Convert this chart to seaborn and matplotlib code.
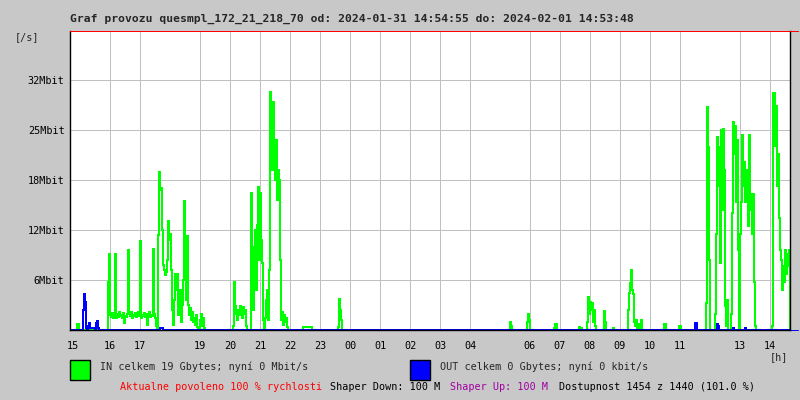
import numpy as np
import pandas as pd
import matplotlib.pyplot as plt
from matplotlib.patches import Rectangle
import seaborn as sns

# --------------------- Data (Mbit/s, one sample every 2 minutes) ---------------------
start_hour = 14 + 40 / 60      # left edge of the graph
step_min = 2
n_samples = 721

# (start time, values) for every burst of traffic; everything else is 0
in_bursts = [
    ("14:54", [0.8, 0.8]),
    ("15:56", [6.0, 9.5, 1.9, 1.6, 2.1, 1.5, 1.9, 9.5, 1.5, 2.0, 1.6, 2.2, 1.7, 1.9, 1.5, 2.1,
               0.9, 1.8, 1.6, 2.0, 10.0, 2.0, 1.7, 2.2, 1.5, 1.9, 1.8, 2.1, 1.6, 1.9, 2.2, 1.7,
               11.1, 1.5, 1.9, 1.7, 2.1, 1.6, 2.0, 0.6, 1.8, 2.2, 1.6, 1.9, 1.7, 10.1, 2.0, 1.5,
               0.5, 0.2, 11.9, 19.8, 17.5, 17.8, 12.5, 8.1, 7.5, 6.9, 7.2, 8.8, 13.6, 11.3, 12.0,
               7.5, 2.5, 0.6, 3.8, 7.0, 5.0, 7.0, 1.9, 3.8, 5.0, 1.0, 3.1, 6.3, 16.1, 7.5, 3.8,
               11.8, 3.1, 1.9, 2.8, 1.3, 2.3, 1.0, 1.5, 0.6, 1.9, 0.4, 0.0, 0.0, 1.3, 2.0, 0.5,
               1.5, 0.2]),
    ("20:06", [0.5, 6.0, 3.0, 2.0, 1.3, 2.5, 1.9, 3.0, 2.2, 1.5, 2.9, 2.0, 2.5, 0.5]),
    ("20:42", [17.1, 10.4, 2.5, 7.5, 12.5, 5.0, 13.1, 17.9, 8.8, 17.1, 11.3, 8.4, 1.3, 0.0,
               1.5, 3.8, 5.0, 1.3, 7.5, 29.8, 25.0, 20.0, 28.5, 23.8, 18.8, 23.8, 16.3, 20.0,
               18.8, 8.8, 1.3, 2.3, 0.6, 1.9, 1.0, 1.5, 0.4]),
    ("22:26", [0.4, 0.4, 0.4, 0.4, 0.4, 0.4, 0.4, 0.4, 0.4]),
    ("23:36", [0.4, 3.9, 2.5, 1.2]),
    ("05:20", [1.0, 0.5]),
    ("05:54", [1.0, 2.0, 1.2]),
    ("06:48", [0.3, 0.8, 0.8]),
    ("07:38", [0.4, 0.0, 0.3]),
    ("07:54", [1.0, 4.1, 2.0, 3.5, 2.5, 3.4, 1.0, 2.5, 0.5]),
    ("08:28", [2.4, 1.0]),
    ("08:46", [0.2]),
    ("09:16", [2.5, 4.6, 5.9, 7.5, 5.0, 4.5, 1.0, 0.5, 1.3, 0.3, 0.0, 0.8, 0.3, 1.2]),
    ("10:28", [0.8, 0.8]),
    ("10:58", [0.5, 0.5]),
    ("11:52", [3.4, 27.9, 22.9, 8.8]),
    ("12:10", [2.0, 12.0, 24.1, 18.0, 22.9, 8.4, 25.0, 15.0, 25.1, 20.0, 3.0, 0.5, 3.8]),
    ("12:40", [0.0, 2.0, 14.6, 26.0, 22.0, 25.5, 16.0, 23.8, 10.0, 0.0, 12.0, 16.0, 24.4,
               18.0, 21.0, 16.0, 20.0, 18.8, 13.0, 24.4, 15.0, 17.0, 12.0, 17.0, 6.0, 0.5]),
    ("14:04", [0.5, 29.6, 29.6, 23.0, 28.0, 18.0, 22.0, 14.0, 10.0, 8.8, 5.0, 8.0, 6.0,
               10.0, 7.0, 9.5, 8.0, 10.0]),
]

out_bursts = [
    ("15:06", [2.5, 4.5, 3.5, 0.3, 0.0, 0.5, 0.9, 0.3, 0.2, 0.2, 0.2, 0.2, 0.0, 0.9, 1.1, 0.2]),
    ("17:40", [0.2, 0.2, 0.2]),
    ("11:30", [0.9, 0.9]),
    ("12:14", [0.8, 0.5]),
    ("12:46", [0.2]),
    ("13:10", [0.2]),
]

y_ticks = [6.25, 12.5, 18.75, 25.0, 31.25]
y_labels = ["6Mbit", "12Mbit", "18Mbit", "25Mbit", "32Mbit"]
x_ticks = [14.77, 16, 17, 19, 20, 21, 22, 23, 24, 25, 26, 27, 28, 30, 31, 32, 33, 34, 35, 37, 38]
x_labels = ["15", "16", "17", "19", "20", "21", "22", "23", "00", "01", "02", "03", "04",
            "06", "07", "08", "09", "10", "11", "13", "14"]

title = "Graf provozu quesmpl_172_21_218_70 od: 2024-01-31 14:54:55 do: 2024-02-01 14:53:48"


def clock_to_hours(s):
    h, m = map(int, s.split(":"))
    t = h + m / 60
    if t < start_hour:          # times before 14:40 belong to the next day
        t += 24
    return t


def build_series(bursts):
    vals = np.zeros(n_samples)
    for start, seq in bursts:
        i = int(round((clock_to_hours(start) - start_hour) * 60 / step_min))
        vals[i:i + len(seq)] = seq
    return vals


hours = start_hour + np.arange(n_samples) * step_min / 60
df = pd.concat([
    pd.DataFrame({"hour": hours, "rate": build_series(in_bursts), "dir": "IN"}),
    pd.DataFrame({"hour": hours, "rate": build_series(out_bursts), "dir": "OUT"}),
])

# --------------------- Plot ---------------------
sns.set_style("white")
plt.rcParams["font.family"] = ["DejaVu Sans Mono"]
bg = "#c8c8c8"
px = 0.72   # one pixel in points at 100 dpi

fig = plt.figure(figsize=(8, 4), dpi=100, facecolor=bg)
ax = fig.add_axes([70 / 800, 70 / 400, 720 / 800, 299 / 400])
ax.set_facecolor("white")

sns.lineplot(data=df, x="hour", y="rate", hue="dir", hue_order=["IN", "OUT"],
             palette={"IN": "#00ff00", "OUT": "#0000ff"}, estimator=None,
             drawstyle="steps-post", linewidth=px, antialiased=False, legend=False, ax=ax)

ax.set_xlim(start_hour, start_hour + 24)
ax.set_ylim(0, 37.375)
ax.set_xticks(x_ticks)
ax.set_xticklabels(x_labels)
ax.set_yticks(y_ticks)
ax.set_yticklabels(y_labels)
ax.set_xlabel("")
ax.set_ylabel("")
ax.tick_params(axis="x", length=0, pad=8, labelsize=7.3, colors="black")
ax.tick_params(axis="y", length=0, pad=4, labelsize=7.3, colors="black")
ax.grid(True, color="#c0c0c0", linewidth=px, antialiased=False)
ax.set_axisbelow(True)
ax.get_xgridlines()[0].set_visible(False)   # "15" has no grid line

for side in ["left", "bottom", "right"]:
    ax.spines[side].set_color("black")
    ax.spines[side].set_linewidth(1)
ax.spines["top"].set_color("red")
ax.spines["top"].set_linewidth(px)
ax.plot([1, 1.011], [1, 1], transform=ax.transAxes, color="red", lw=px, clip_on=False)
ax.plot([1, 1.011], [0, 0], transform=ax.transAxes, color="blue", lw=px, clip_on=False)

# --------------------- Texts and legend ---------------------
fs = 7.3
fig.text(70 / 800, 1 - 19 / 400, title, fontsize=8.2, fontweight="bold", va="center")
fig.text(15 / 800, 1 - 37 / 400, "[/s]", fontsize=fs, va="center")
fig.text(770 / 800, 1 - 357 / 400, "[h]", fontsize=fs, va="center")

fig.add_artist(Rectangle((70 / 800, 1 - 380 / 400), 20 / 800, 20 / 400,
                         facecolor="#00ff00", edgecolor="black", lw=1, transform=fig.transFigure))
fig.add_artist(Rectangle((410 / 800, 1 - 380 / 400), 20 / 800, 20 / 400,
                         facecolor="#0000ff", edgecolor="black", lw=1, transform=fig.transFigure))
fig.text(100 / 800, 1 - 367 / 400, "IN celkem 19 Gbytes; nyní 0 Mbit/s", fontsize=fs, va="center")
fig.text(440 / 800, 1 - 367 / 400, "OUT celkem 0 Gbytes; nyní 0 kbit/s", fontsize=fs, va="center")

row_y = 1 - 387 / 400
fig.text(120 / 800, row_y, "Aktualne povoleno 100 % rychlosti", fontsize=fs, va="center", color="red")
fig.text(330 / 800, row_y, "Shaper Down: 100 M", fontsize=fs, va="center", color="black")
fig.text(450 / 800, row_y, "Shaper Up: 100 M", fontsize=fs, va="center", color="#a000a0")
fig.text(559 / 800, row_y, "Dostupnost 1454 z 1440 (101.0 %)", fontsize=fs, va="center", color="black")

fig.savefig("out.png", dpi=100, facecolor=bg)
